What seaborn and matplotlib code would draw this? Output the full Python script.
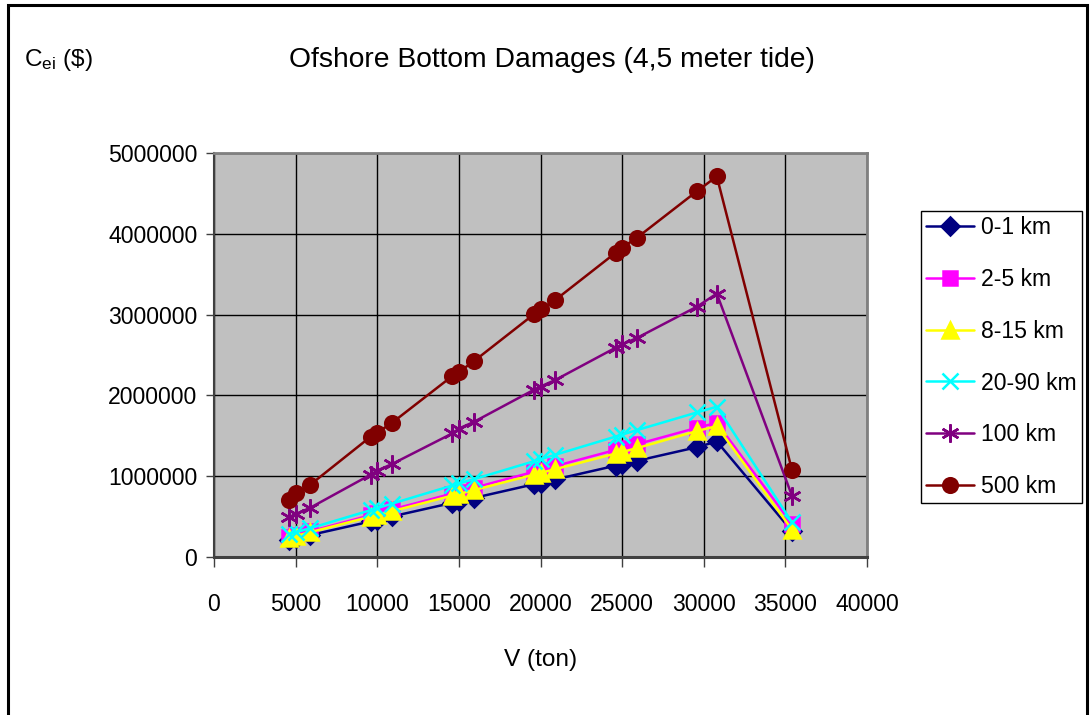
import matplotlib
matplotlib.use("Agg")
import matplotlib.pyplot as plt
from matplotlib.patches import Rectangle
from matplotlib.ticker import FuncFormatter
import seaborn as sns
import pandas as pd

# Ship displacement (ton)
tonnage = [4600, 5000, 5900, 9600, 10000, 10900, 14600, 15000, 15900,
           19600, 20000, 20900, 24600, 25000, 25900, 29600, 30800, 35400]

# Damage cost per distance class ($)
cost_0_1 = [212000, 230000, 272000, 440000, 460000, 502000, 670000, 690000, 730000,
            900000, 920000, 960000, 1130000, 1150000, 1190000, 1360000, 1430000, 320000]
cost_2_5 = [248000, 270000, 318000, 518000, 540000, 588000, 785000, 808000, 855000,
            1055000, 1080000, 1125000, 1325000, 1345000, 1395000, 1600000, 1660000, 410000]
cost_8_15 = [240000, 260000, 307000, 500000, 520000, 567000, 760000, 780000, 827000,
             1020000, 1040000, 1087000, 1280000, 1300000, 1347000, 1560000, 1620000, 340000]
cost_20_90 = [280000, 305000, 357000, 580000, 605000, 660000, 885000, 910000, 962000,
              1185000, 1210000, 1265000, 1490000, 1515000, 1570000, 1790000, 1860000, 430000]
cost_100 = [490000, 530000, 610000, 1020000, 1070000, 1150000, 1530000, 1590000, 1670000,
            2070000, 2110000, 2190000, 2590000, 2630000, 2710000, 3100000, 3260000, 760000]
cost_500 = [710000, 790000, 895000, 1490000, 1540000, 1660000, 2240000, 2290000, 2420000,
            3005000, 3065000, 3180000, 3765000, 3830000, 3950000, 4530000, 4710000, 1080000]

series_names = ["0-1 km", "2-5 km", "8-15 km", "20-90 km", "100 km", "500 km"]
series_values = [cost_0_1, cost_2_5, cost_8_15, cost_20_90, cost_100, cost_500]

x_ticks = [0, 5000, 10000, 15000, 20000, 25000, 30000, 35000, 40000]
y_ticks = [0, 1000000, 2000000, 3000000, 4000000, 5000000]

title_text = "Ofshore Bottom Damages (4,5 meter tide)"
x_label = "V (ton)"
y_label = r"$\mathregular{C_{ei}}$ (\$)"

colors = ["#000080", "#FF00FF", "#FFFF00", "#00FFFF", "#800080", "#800000"]
markers = ["D", "s", "^", "x", (6, 2, 0), "o"]
marker_sizes = [9.5, 9.5, 11.5, 12, 13, 10.5]

sns.set_theme(style="white")
plt.rcParams["font.family"] = ["Liberation Sans", "DejaVu Sans"]
plt.rcParams["mathtext.fontset"] = "custom"
plt.rcParams["mathtext.rm"] = "Liberation Sans"
plt.rcParams["text.color"] = "black"
plt.rcParams["xtick.labelcolor"] = "black"
plt.rcParams["ytick.labelcolor"] = "black"

W, H = 1090, 715
fig = plt.figure(figsize=(W / 100, H / 100), dpi=100)
fig.patch.set_facecolor("white")

left, right, top, bottom = 214, 867, 153, 557
ax = fig.add_axes([left / W, 1 - bottom / H, (right - left) / W, (bottom - top) / H])
ax.set_facecolor("#C0C0C0")

frames = []
for name, vals in zip(series_names, series_values):
    frames.append(pd.DataFrame({"V": tonnage, "C": vals, "series": name}))
data = pd.concat(frames, ignore_index=True)

for name, col, mk, ms in zip(series_names, colors, markers, marker_sizes):
    sub = data[data["series"] == name]
    sns.lineplot(data=sub, x="V", y="C", ax=ax, color=col, linewidth=1.8,
                 marker=mk, markersize=ms, markeredgecolor=col,
                 markerfacecolor=col, markeredgewidth=1.8,
                 label=name, sort=False, estimator=None, legend=False, zorder=3)

ax.set_xlim(0, 40000)
ax.set_ylim(0, 5000000)
ax.set_xticks(x_ticks)
ax.set_yticks(y_ticks)
ax.xaxis.set_major_formatter(FuncFormatter(lambda v, p: f"{int(v)}"))
ax.yaxis.set_major_formatter(FuncFormatter(lambda v, p: f"{int(v)}"))
ax.grid(True, color="black", linewidth=1.0, zorder=1)
ax.set_axisbelow(True)

for side in ["top", "right"]:
    ax.spines[side].set_color("#808080")
    ax.spines[side].set_linewidth(2)
ax.spines["left"].set_color("#404040")
ax.spines["left"].set_linewidth(1.5)
ax.spines["bottom"].set_color("#404040")
ax.spines["bottom"].set_linewidth(2.2)

tick_fs = 16.6
ax.tick_params(axis="x", direction="out", length=7, width=1, color="#404040",
               pad=19, labelsize=tick_fs, labelcolor="black", bottom=True)
ax.tick_params(axis="y", direction="out", length=6, width=1, color="#404040",
               pad=6, labelsize=tick_fs, labelcolor="black", left=True)
ax.set_xlabel("")
ax.set_ylabel("")

fig.text(552 / W, 1 - 60 / H, title_text, ha="center", va="center",
         fontsize=20.3, color="black")
fig.text(541 / W, 1 - 660 / H, x_label, ha="center", va="center",
         fontsize=17.6, color="black")
fig.text(58 / W, 1 - 60 / H, y_label, ha="center", va="center",
         fontsize=17.6, color="black")

handles, labels = ax.get_legend_handles_labels()
leg = fig.legend(handles, labels, loc="upper left",
                 bbox_to_anchor=(921 / W, 1 - 211 / H), fontsize=tick_fs,
                 frameon=True, fancybox=False, framealpha=1, edgecolor="black",
                 borderpad=0.22, labelspacing=1.25, handlelength=2.1,
                 handletextpad=0.3, borderaxespad=0, labelcolor="black")
leg.get_frame().set_linewidth(1.0)

# outer chart frame
fig.add_artist(Rectangle((8 / W, -0.05), (1087 - 8) / W, 1.05 - 5 / H,
                         transform=fig.transFigure, fill=False,
                         edgecolor="black", linewidth=2.2))

fig.savefig("out.png", dpi=100)
